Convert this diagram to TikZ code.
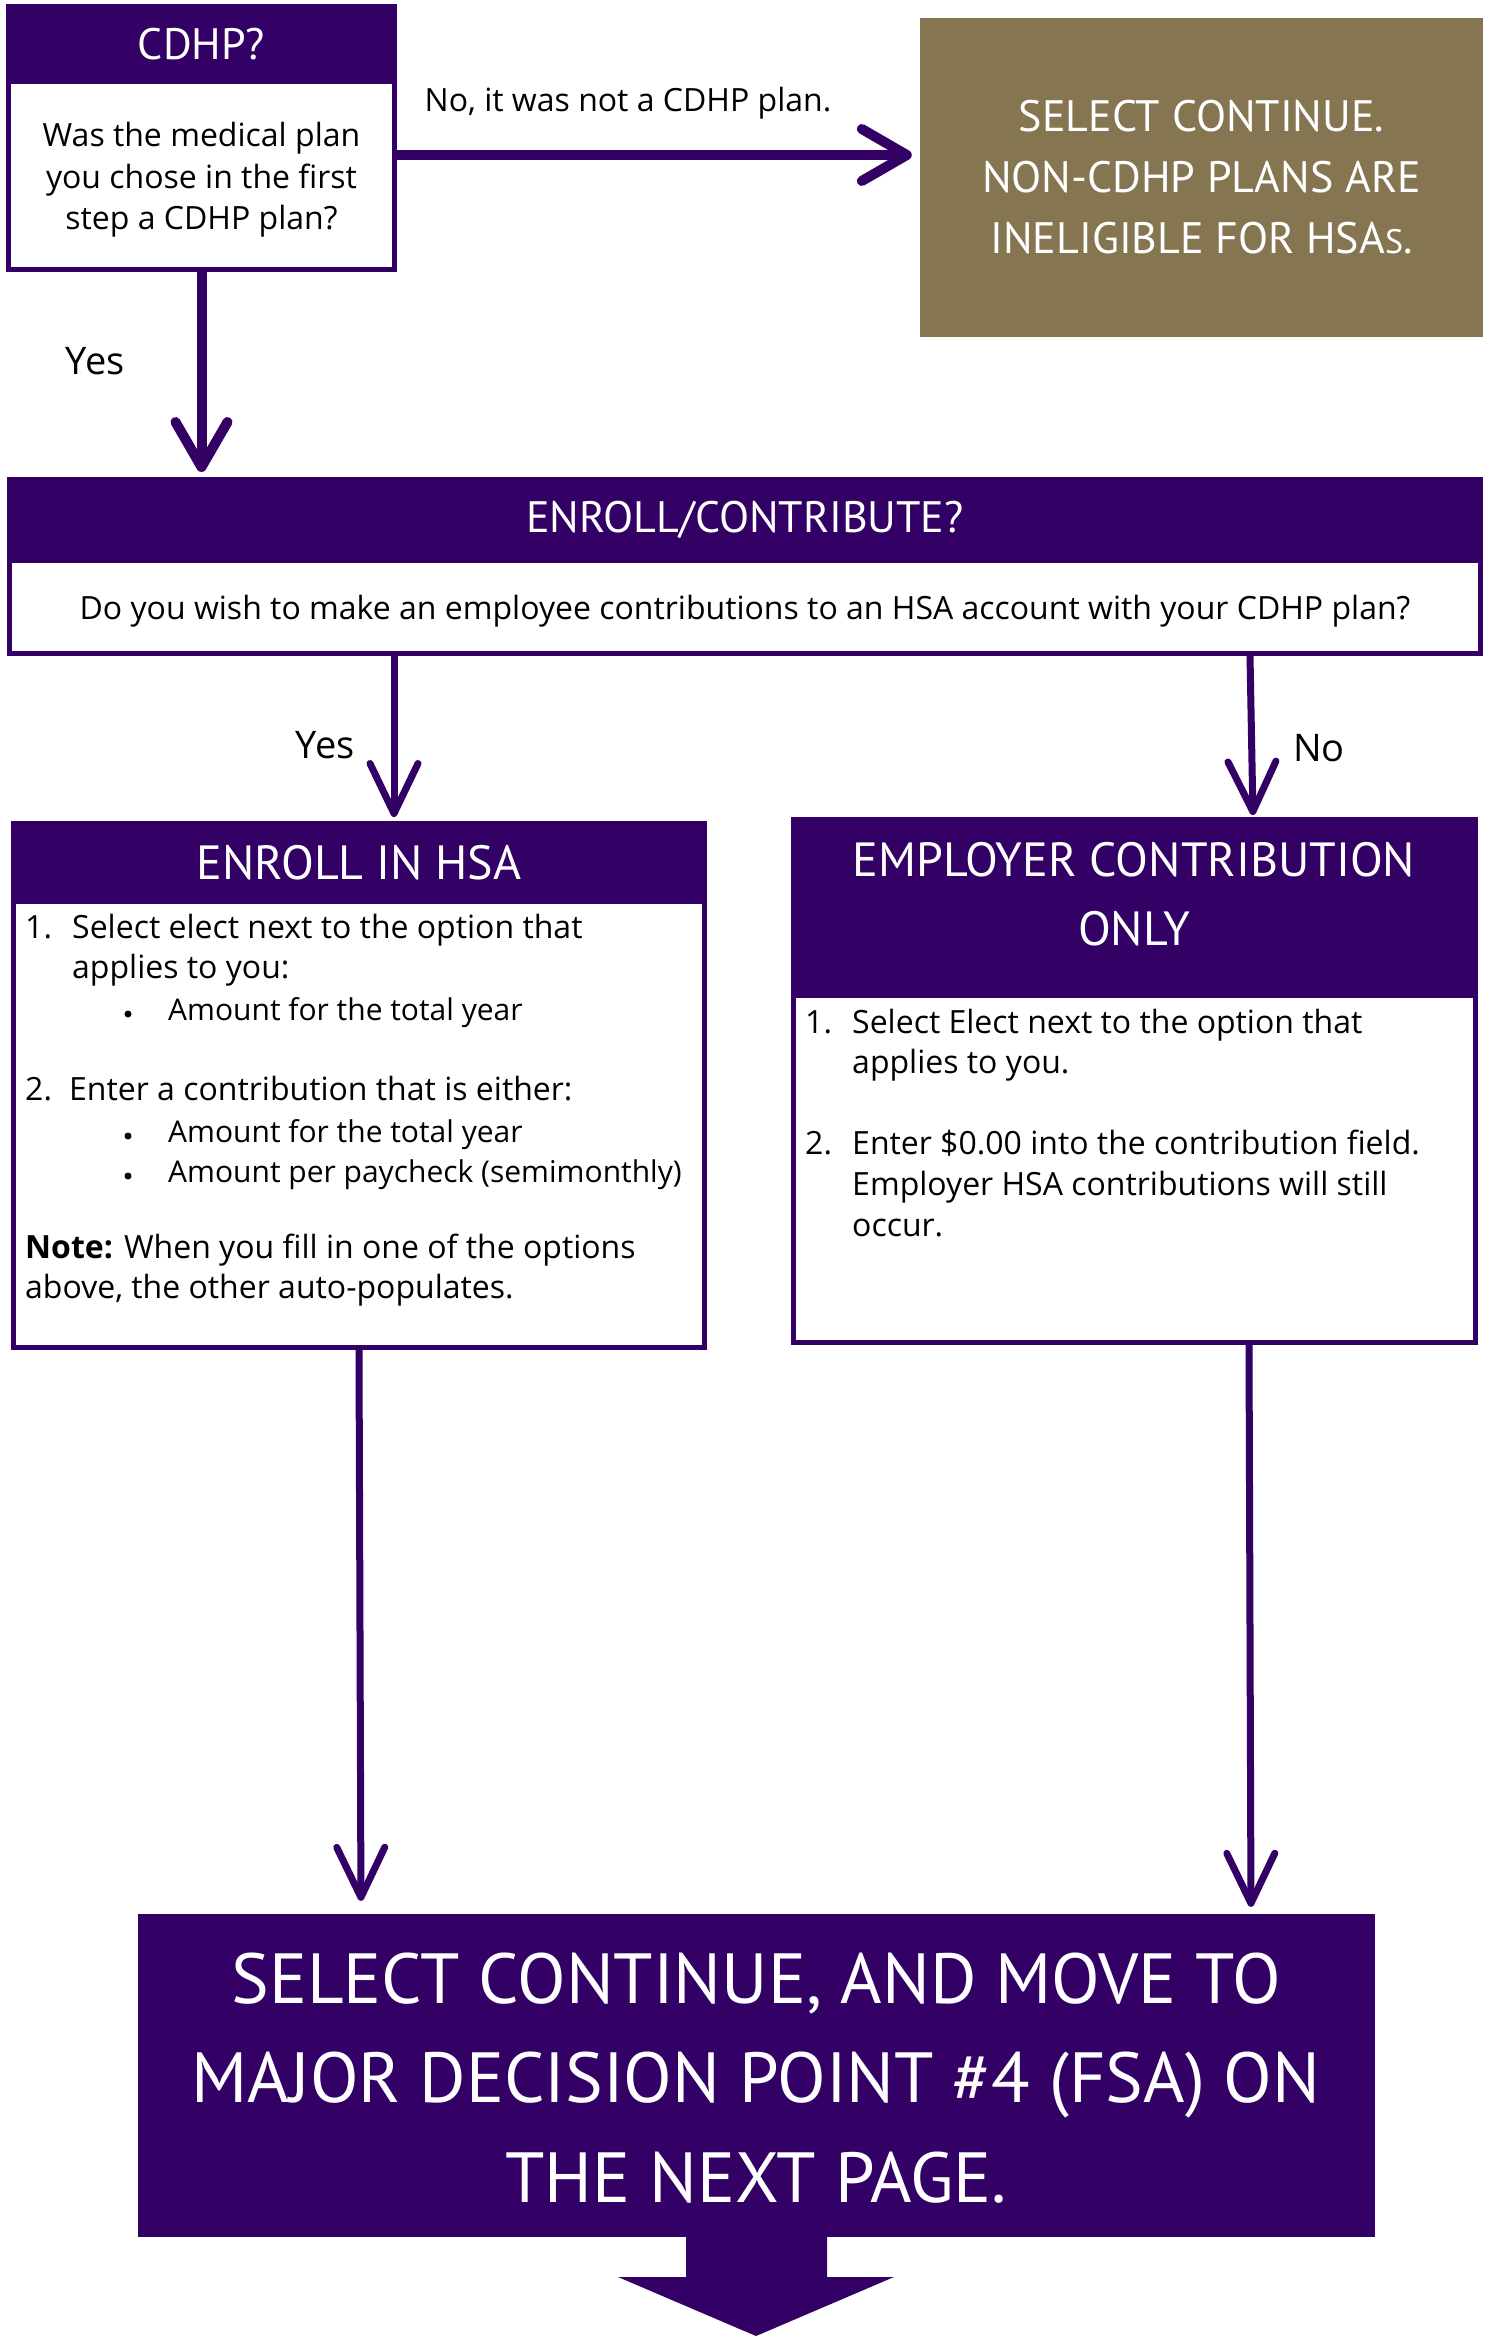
\documentclass[tikz,border=0pt]{standalone}
\usepackage{fontspec}
\setmainfont{Open Sans}
\newfontfamily\hfont{PT Sans}
\usetikzlibrary{arrows.meta}
\definecolor{hpurple}{HTML}{330066}
\definecolor{holive}{HTML}{857550}
\begin{document}
\begin{tikzpicture}[x=1pt,y=-1pt,
  hdr/.style={fill=hpurple, text=white, inner sep=0pt, align=center, font=\hfont\fontsize{44}{69}\selectfont},
  outl/.style={draw=hpurple, line width=5pt, fill=white, inner sep=0pt},
  bodytxt/.style={text=black, inner sep=0pt, font=\fontsize{32}{41.5}\selectfont},
  subtxt/.style={text=black, inner sep=0pt, font=\fontsize{30}{40}\selectfont},
  bul/.style={fill=black, circle, inner sep=0pt, minimum size=7pt},
  lbl/.style={text=black, inner sep=0pt, font=\fontsize{32}{38}\selectfont},
  biglbl/.style={text=black, inner sep=0pt, font=\fontsize{38}{44}\selectfont},
  bigarr/.style={draw=hpurple, line width=10pt, -{Straight Barb[length=45pt,width=52pt,line cap=round,line join=round]}},
  arr/.style={draw=hpurple, line width=7pt, -{Straight Barb[length=50pt,width=48pt,line cap=round,line join=round]}}
]
\useasboundingbox[fill=white] (0,0) rectangle (1486,2336);

% CDHP box
\node[outl, minimum width=386pt, minimum height=263pt] (cdhp) at (201.5,138) {};
\node[hdr, minimum width=391pt, minimum height=80pt] (cdhpH) at (201.5,44) {CDHP?};
\node[bodytxt, align=center] (cdhpT) at (201.5,180) {Was the medical plan\\you chose in the first\\step a CDHP plan?};

% olive box
\node[fill=holive, minimum width=563pt, minimum height=319pt, inner sep=0pt, text=white, align=center,
      font=\hfont\fontsize{44}{61}\selectfont] (olive) at (1201.5,177.5)
      {SELECT CONTINUE.\\NON-CDHP PLANS ARE\\INELIGIBLE FOR HSA{\fontsize{34}{40}\selectfont S}.};

% enroll/contribute
\node[outl, minimum width=1471pt, minimum height=174pt] (enroll) at (745,566.5) {};
\node[hdr, minimum width=1476pt, minimum height=86pt] (enrollH) at (745,520) {ENROLL/CONTRIBUTE?};
\node[bodytxt] (enrollT) at (745,611) {Do you wish to make an employee contributions to an HSA account with your CDHP plan?};

% enroll in HSA
\node[outl, minimum width=691pt, minimum height=524pt] (hsa) at (359,1085.5) {};
\node[hdr, minimum width=696pt, minimum height=83pt, font=\hfont\fontsize{48}{69}\selectfont] (hsaH) at (359,862.5) {ENROLL IN HSA};
\node[bodytxt, anchor=mid west] (h1n) at (25,936) {1.};
\node[bodytxt, anchor=mid west] (h1a) at (72,936) {Select elect next to the option that};
\node[bodytxt, anchor=mid west] (h1b) at (72,976) {applies to you:};
\node[bul] (h1c) at (128,1014) {};
\node[subtxt, anchor=mid west] (h1d) at (168,1018) {Amount for the total year};
\node[bodytxt, anchor=mid west] (h2n) at (25,1098) {2.};
\node[bodytxt, anchor=mid west] (h2a) at (69,1098) {Enter a contribution that is either:};
\node[bul] (h2b) at (128,1136) {};
\node[subtxt, anchor=mid west] (h2c) at (168,1140) {Amount for the total year};
\node[bul] (h2d) at (128,1176) {};
\node[subtxt, anchor=mid west] (h2e) at (168,1180) {Amount per paycheck (semimonthly)};
\node[bodytxt, anchor=mid west] (h3a) at (25,1256) {\textbf{Note:} When you fill in one of the options};
\node[bodytxt, anchor=mid west] (h3b) at (25,1296) {above, the other auto-populates.};

% employer contribution only
\node[outl, minimum width=682pt, minimum height=523pt] (emp) at (1134.5,1081) {};
\node[hdr, minimum width=687pt, minimum height=181pt] (empH) at (1134.5,907.5) {};
\node[text=white, inner sep=0pt, align=center, font=\hfont\fontsize{48}{69}\selectfont] (empT) at (1134,894.5) {EMPLOYER CONTRIBUTION\\ONLY};
\node[bodytxt, anchor=mid west] (e1n) at (805,1031) {1.};
\node[bodytxt, anchor=mid west] (e1a) at (852,1031) {Select Elect next to the option that};
\node[bodytxt, anchor=mid west] (e1b) at (852,1071) {applies to you.};
\node[bodytxt, anchor=mid west] (e2n) at (805,1152) {2.};
\node[bodytxt, anchor=mid west] (e2a) at (852,1152) {Enter \$0.00 into the contribution field.};
\node[bodytxt, anchor=mid west] (e2b) at (852,1193) {Employer HSA contributions will still};
\node[bodytxt, anchor=mid west] (e2c) at (852,1234) {occur.};

% final box
\node[fill=hpurple, minimum width=1237pt, minimum height=323pt, inner sep=0pt] (final) at (756.5,2075.5) {};
\node[text=white, inner sep=0pt, align=center, font=\hfont\fontsize{71}{99.5}\selectfont] (finalT) at (756,2078)
  {SELECT CONTINUE, AND MOVE TO\\MAJOR DECISION POINT \#4 (FSA) ON\\THE NEXT PAGE.};
\fill[hpurple] (final.south -| 686,0) -- (827,2237) -- (827,2277) -- (894,2277) -- (756,2336) -- (618,2277) -- (686,2277) -- cycle;

% labels
\node[lbl] (lNo) at (628,103) {No, it was not a CDHP plan.};
\node[biglbl] (lYes1) at (95,361) {Yes};
\node[biglbl] (lYes2) at (325,745) {Yes};
\node[biglbl] (lNo2) at (1319,748) {No};

% connectors
\coordinate (xYes) at (394,0);
\coordinate (xNoA) at (1250,0);
\coordinate (xNoB) at (1253,0);
\coordinate (xHA) at (361,0);
\coordinate (xEA) at (1249,0);
\coordinate (xEB) at (1251,0);
\draw[bigarr, shorten >=8pt] ([yshift=-17pt]cdhp.east) -- ([yshift=-17pt]cdhp.east -| olive.west);
\draw[bigarr, shorten >=5pt] (cdhp.south) -- (cdhp.south |- enroll.north);
\draw[arr, shorten >=4pt] (enroll.south -| xYes) -- (hsa.north -| xYes);
\draw[arr, shorten >=2pt] (enroll.south -| xNoA) -- (emp.north -| xNoB);
\draw[arr, shorten >=13pt] (hsa.south) -- (final.north -| xHA);
\draw[arr, shorten >=7pt] (emp.south -| xEA) -- (final.north -| xEB);
\end{tikzpicture}
\end{document}
